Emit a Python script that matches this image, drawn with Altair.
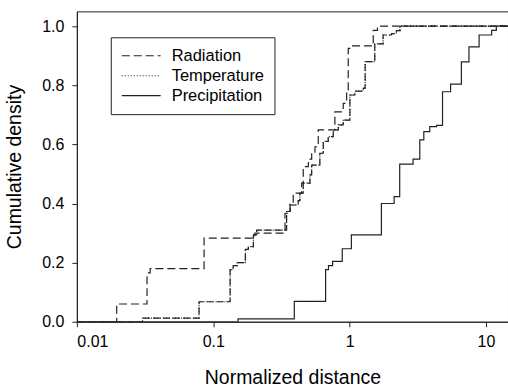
import altair as alt
import pandas as pd

series = ["Radiation", "Temperature", "Precipitation"]

rad_x = [0.0196, 0.0327, 0.0345, 0.0857, 0.202, 0.336, 0.366, 0.386, 0.445, 0.457,
         0.498, 0.527, 0.557, 0.589, 0.78, 0.898, 0.951, 0.977, 1.03, 1.49, 1.6]
rad_y = [0.06, 0.165, 0.18, 0.283, 0.30, 0.367, 0.40, 0.435, 0.469, 0.525,
         0.55, 0.57, 0.592, 0.649, 0.71, 0.739, 0.784, 0.925, 0.933, 0.986, 1.0]

tmp_x = [0.0303, 0.0787, 0.133, 0.14, 0.15, 0.172, 0.181, 0.197, 0.208, 0.345,
         0.366, 0.42, 0.432, 0.457, 0.512, 0.527, 0.605, 0.641, 0.697, 0.759,
         0.826, 0.898, 1.005, 1.094, 1.26, 1.3, 1.53, 1.76, 2.03, 2.2, 2.34]
tmp_y = [0.0125, 0.0676, 0.176, 0.19, 0.20, 0.245, 0.254, 0.294, 0.31, 0.373,
         0.395, 0.41, 0.435, 0.469, 0.497, 0.53, 0.57, 0.61, 0.626, 0.649,
         0.666, 0.682, 0.767, 0.78, 0.79, 0.88, 0.94, 0.97, 0.975, 0.985, 1.0]

prc_x = [0.152, 0.393, 0.667, 0.70, 0.75, 0.883, 1.03, 1.71, 2.12, 2.33, 2.92,
         3.27, 3.5, 3.87, 4.34, 4.8, 5.5, 6.6, 7.5, 8.9, 11.0, 11.9]
prc_y = [0.01, 0.0686, 0.176, 0.19, 0.204, 0.247, 0.294, 0.40, 0.423, 0.533, 0.55,
         0.615, 0.643, 0.66, 0.664, 0.778, 0.804, 0.879, 0.93, 0.97, 0.986, 1.0]

x_ticks = [0.01, 0.1, 1, 10]
y_ticks = [0.0, 0.2, 0.4, 0.6, 0.8, 1.0]
X_MIN, X_MAX = 0.01, 14.5

rows = []
for name, xs, ys in zip(series, [rad_x, tmp_x, prc_x], [rad_y, tmp_y, prc_y]):
    rows.append({"series": name, "x": X_MIN, "y": 0.0})
    for xv, yv in zip(xs, ys):
        rows.append({"series": name, "x": xv, "y": yv})
    rows.append({"series": name, "x": X_MAX, "y": ys[-1]})
df = pd.DataFrame(rows)

FONT = "Liberation Sans"
INK = "#222222"

x_enc = alt.X("x:Q",
              scale=alt.Scale(type="log", domain=[X_MIN, X_MAX], nice=False),
              axis=alt.Axis(values=x_ticks, format="~g", title="Normalized distance"))
y_enc = alt.Y("y:Q",
              scale=alt.Scale(domain=[0, 1.05], nice=False),
              axis=alt.Axis(values=y_ticks, format=".1f", title="Cumulative density"))

base = alt.Chart(df)

temp_dash = base.transform_filter(alt.datum.series == "Temperature").mark_line(
    interpolate="step-after", strokeDash=[7, 3], color=INK, strokeWidth=1.2, clip=True
).encode(x=x_enc, y=y_enc)

main = base.mark_line(
    interpolate="step-after", color=INK, strokeWidth=1.2, clip=True
).encode(
    x=x_enc, y=y_enc,
    strokeDash=alt.StrokeDash(
        "series:N",
        scale=alt.Scale(domain=series, range=[[8, 4], [1, 2], [1, 0]]),
        legend=alt.Legend(
            title=None, orient="none", legendX=34, legendY=26,
            symbolType="stroke", symbolSize=1521, symbolStrokeWidth=1.2,
            symbolStrokeColor=INK, labelFontSize=16.5, labelFont=FONT,
            labelColor="black", strokeColor=INK, fillColor="white",
            padding=10, labelOffset=10, rowPadding=3, clipHeight=17,
        ),
    ),
)

chart = alt.layer(temp_dash, main).properties(
    width=432, height=311,
    padding={"left": 77, "top": 11, "right": 0, "bottom": 65},
    autosize=alt.AutoSizeParams(type="none"),
).configure_view(
    stroke=INK, strokeWidth=1
).configure_axis(
    grid=False, domainColor=INK, tickColor=INK, tickSize=5,
    labelFont=FONT, labelFontSize=16, labelColor="black",
    titleFont=FONT, titleFontSize=19.5, titleFontWeight="normal", titleColor="black",
).configure_axisY(titlePadding=17, labelPadding=8).configure_axisX(titlePadding=19, labelPadding=7)

chart.save("out.html", embed_options={"renderer": "svg", "actions": False})
